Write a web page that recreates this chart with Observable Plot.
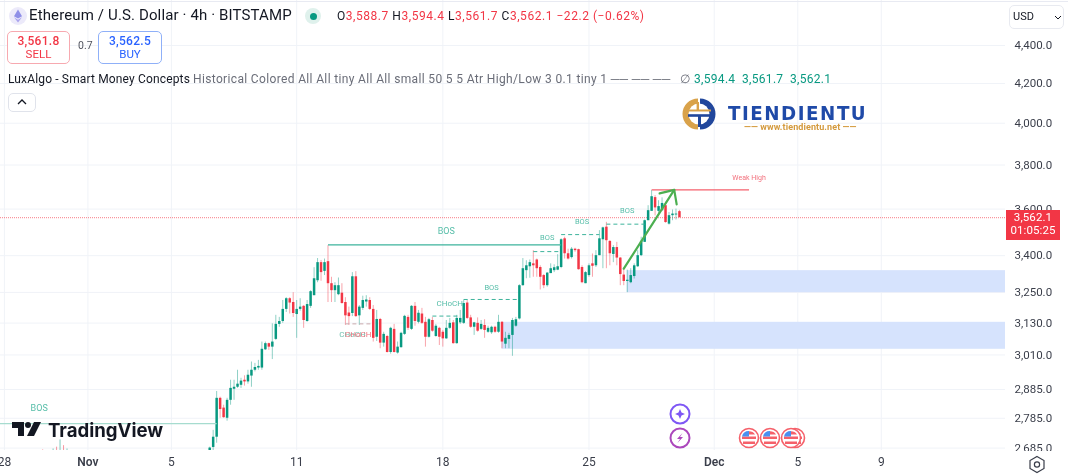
<!DOCTYPE html>
<html><head><meta charset="utf-8">
<script src="https://cdn.jsdelivr.net/npm/d3@7"></script>
<script src="https://cdn.jsdelivr.net/npm/@observablehq/plot@0.6"></script>
<style>
html,body{margin:0;padding:0;background:#fff;overflow:hidden}
#w{position:relative;width:1068px;height:474px;font-family:Roboto,sans-serif;color:#131722;filter:blur(.3px)}
#w svg{display:block}
.t{position:absolute;white-space:pre;line-height:1}
.box{position:absolute;box-sizing:border-box;border-radius:5px;background:#fff}
</style></head><body><div id="w"><div id="chart"></div>
<div class="t" style="left:0;top:1px;width:1068px;height:1px;background:#e8eaf2"></div>
<svg style="position:absolute;left:9px;top:7px" width="18" height="18" viewBox="0 0 18 18"><circle cx="9" cy="9" r="9" fill="#eceafa"/><path d="M9 2.5L5 9.3 9 11.6 13 9.3Z" fill="#8f8fe8"/><path d="M5 10.3L9 15.5 13 10.3 9 12.7Z" fill="#a9a3ee"/></svg>
<div class="t" style="left:29px;top:8px;font-size:15px;letter-spacing:.13px">Ethereum / U.S. Dollar · 4h · BITSTAMP</div>
<div class="t" style="left:305px;top:8px;width:16px;height:16px;border-radius:50%;background:#dff1ec"></div>
<div class="t" style="left:310px;top:13px;width:7px;height:7px;border-radius:50%;background:#089981"></div>
<div class="t" style="left:337px;top:10px;font-size:12px;color:#f23645;letter-spacing:.54px"><span style="color:#131722">O</span>3,588.7 <span style="color:#131722">H</span>3,594.4 <span style="color:#131722">L</span>3,561.7 <span style="color:#131722">C</span>3,562.1 −22.2 (−0.62%)</div>
<div class="box" style="left:7px;top:31px;width:63px;height:33px;border:1px solid #f7a9b0"></div>
<div class="t" style="left:7px;width:63px;text-align:center;top:35px;font-size:12px;color:#f23645;font-weight:500;letter-spacing:.3px">3,561.8</div>
<div class="t" style="left:7px;width:63px;text-align:center;top:49px;font-size:11.5px;color:#f23645">SELL</div>
<div class="t" style="left:78px;top:41px;font-size:10.5px;color:#50535e">0.7</div>
<div class="box" style="left:98px;top:31px;width:64px;height:33px;border:1px solid #8fb0f8"></div>
<div class="t" style="left:98px;width:64px;text-align:center;top:35px;font-size:12px;color:#2962ff;font-weight:500;letter-spacing:.3px">3,562.5</div>
<div class="t" style="left:98px;width:64px;text-align:center;top:49px;font-size:11.5px;color:#2962ff">BUY</div>
<div class="t" style="left:8px;top:73px;font-size:12px;letter-spacing:.15px">LuxAlgo - Smart Money Concepts</div>
<div class="t" style="left:193px;top:73px;font-size:12px;color:#6a6d78;letter-spacing:.35px">Historical Colored All All tiny All All small 50 5 5 Atr High/Low 3 0.1 tiny 1 ── ── ──</div>
<div class="t" style="left:680px;top:73px;font-size:12px;color:#6a6d78">∅</div>
<div class="t" style="left:694px;top:73px;font-size:12px;color:#089981;letter-spacing:.31px">3,594.4  3,561.7  3,562.1</div>
<div class="box" style="left:8px;top:93px;width:28px;height:19px;border:1px solid #e0e3eb"></div>
<svg style="position:absolute;left:16px;top:98px" width="12" height="8"><path d="M2 6L6 2 10 6" fill="none" stroke="#131722" stroke-width="1.3"/></svg>
<div class="box" style="left:1009px;top:5px;width:55px;height:24px;border:1px solid #e8eaf0"></div>
<div class="t" style="left:1013px;top:11px;font-size:11px">USD</div>
<svg style="position:absolute;left:1053px;top:14px" width="10" height="7"><path d="M2 2L5 5 8 2" fill="none" stroke="#131722" stroke-width="1"/></svg>
<div class="t" style="left:1006px;top:210px;width:54px;height:30px;background:#f23645"></div>
<div class="t" style="left:1006px;width:54px;text-align:center;top:212px;font-size:11.5px;color:#fff;letter-spacing:.1px">3,562.1</div>
<div class="t" style="left:1006px;width:54px;text-align:center;top:225px;font-size:11.5px;color:#fff;letter-spacing:.1px">01:05:25</div>
<div class="t" style="left:1006px;top:451px;width:60px;height:23px;background:#fff"></div>
<svg style="position:absolute;left:1028px;top:455px" width="18" height="20"><path d="M9 1.5L16 5.5V13.5L9 17.5 2 13.5V5.5Z" fill="none" stroke="#3a3e4a" stroke-width="1.2"/><circle cx="9" cy="9.5" r="2.6" fill="none" stroke="#3a3e4a" stroke-width="1.2"/></svg>
<svg style="position:absolute;left:682px;top:97px" width="34" height="34" viewBox="0 0 34 34">
<path d="M16 1.5A15.5 15.5 0 0 0 16 32.5Z" fill="#d9a24a"/><path d="M18 1.5A15.5 15.5 0 0 1 18 32.5Z" fill="#21479c"/>
<circle cx="17" cy="17" r="10.5" fill="#fff"/><path d="M5 13.5H29" stroke="#d9a24a" stroke-width="2"/><path d="M6 18.5H28" stroke="#21479c" stroke-width="2.6"/><path d="M15.8 5V13" stroke="#d9a24a" stroke-width="2.4"/><path d="M17.5 18V30" stroke="#21479c" stroke-width="3"/></svg>
<div class="t" style="left:728px;top:104px;font-size:19px;font-weight:800;color:#1f4aa8;letter-spacing:1.6px;font-family:'DejaVu Sans',sans-serif;transform-origin:left;transform:scaleX(.96)">TIENDIENTU</div>
<div class="t" style="left:744px;top:123px;font-size:9px;font-weight:700;color:#d49a3d;letter-spacing:.1px">—— www.tiendientu.net ——</div>
<svg style="position:absolute;left:12px;top:422px" width="30" height="16" viewBox="0 0 30 16"><path d="M0 0H12V14H6V6H0Z" fill="#131722"/><circle cx="16" cy="3" r="3" fill="#131722"/><path d="M22 0H29L22 14H15Z" fill="#131722"/></svg>
<div class="t" style="left:48px;top:421px;font-size:18.6px;font-weight:700;color:#131722;font-family:Inter,sans-serif">TradingView</div>
<svg style="position:absolute;left:665px;top:400px" width="145" height="52">
<g fill="#fff" stroke-width="2"><circle cx="15" cy="14" r="9.5" stroke="#7e57f5"/><circle cx="15" cy="38" r="9.5" stroke="#ab47bc"/></g>
<path d="M15 9L16.5 12.5 20 14 16.5 15.5 15 19 13.5 15.5 10 14 13.5 12.5Z" fill="#7e57f5"/><path d="M17.5 33L12 39H15L12.5 43 18 37H15Z" fill="#ab47bc"/>
<g id="flags"></g></svg>
</div>
<script>
const opens=[2675,2687,2721,2854,2820,2785,2847,2886,2893,2900,
2918,2912,2933,2954,2962,2962,3029,3052,3039,3068,
3125,3136,3183,3225,3210,3163,3183,3195,3136,3195,
3237,3297,3371,3335,3375,3285,3257,3241,3247,3210,
3169,3167,3313,3158,3187,3212,3218,3183,3076,3144,
3054,3079,3019,3106,3017,3037,3087,3152,3106,3195,
3133,3165,3133,3076,3140,3079,3110,3095,3070,3110,
3131,3052,3131,3129,3208,3150,3114,3129,3106,3121,
3095,3093,3114,3095,3133,3050,3068,3083,3118,3146,
3277,3338,3354,3366,3382,3351,3318,3277,3326,3338,
3340,3351,3471,3408,3392,3427,3425,3351,3285,3318,
3366,3358,3400,3467,3521,3460,3405,3434,3390,3320,
3294,3289,3314,3354,3400,3456,3549,3590,3651,3590,
3593,3615,3534,3571,3574,3588.7];
const highs=[2688,2744,2878,2858,2830,2854,2918,2918,2954,2925,
2934,2954,2984,2979,2990,3058,3058,3054,3127,3160,
3152,3218,3229,3229,3249,3218,3225,3198,3218,3257,
3350,3388,3380,3386,3442,3311,3289,3308,3285,3229,
3192,3330,3334,3198,3235,3237,3229,3198,3179,3148,
3095,3083,3114,3125,3058,3095,3160,3160,3198,3210,
3179,3187,3152,3148,3152,3125,3114,3102,3140,3148,
3140,3160,3179,3220,3218,3160,3133,3150,3140,3143,
3118,3118,3118,3160,3136,3095,3091,3148,3152,3281,
3388,3379,3382,3421,3386,3358,3322,3330,3366,3362,
3404,3471,3478,3427,3434,3431,3427,3358,3334,3366,
3407,3421,3506,3521,3542,3463,3442,3456,3392,3346,
3340,3346,3366,3421,3478,3552,3615,3683,3660,3637,
3650,3630,3585,3596,3600,3594.4];
const lows=[2672,2677,2701,2785,2785,2775,2830,2847,2889,2889,
2897,2904,2893,2948,2954,2954,3027,3027,2993,3064,
3114,3129,3171,3165,3152,3072,3176,3110,3133,3187,
3237,3289,3295,3318,3210,3210,3210,3237,3204,3121,
3121,3155,3152,3121,3179,3192,3179,3058,3060,3033,
3039,3017,3013,3017,3013,3035,3083,3102,3102,3118,
3127,3125,3039,3073,3095,3076,3045,3039,3068,3106,
3050,3050,3125,3125,3144,3110,3083,3095,3102,3072,
3091,3087,3091,3091,3033,3033,3033,3005,3114,3142,
3275,3305,3307,3311,3311,3260,3265,3271,3326,3330,
3338,3346,3386,3382,3386,3414,3340,3285,3285,3311,
3311,3351,3400,3346,3346,3358,3371,3358,3277,3277,
3249,3285,3304,3351,3396,3456,3549,3590,3570,3580,
3590,3538,3530,3549,3552,3561.7];
const closes=[2685,2721,2854,2815,2787,2847,2889,2893,2904,2915,
2912,2936,2954,2964,2968,3031,3052,3039,3058,3125,
3136,3183,3225,3208,3167,3183,3192,3140,3202,3253,
3305,3371,3330,3371,3285,3257,3277,3277,3206,3158,
3155,3313,3155,3192,3218,3220,3183,3072,3144,3054,
3087,3019,3110,3019,3039,3091,3156,3110,3195,3136,
3168,3129,3076,3143,3099,3118,3076,3070,3110,3129,
3052,3148,3148,3206,3148,3114,3131,3099,3125,3102,
3110,3114,3095,3133,3058,3072,3083,3140,3143,3277,
3346,3358,3371,3358,3346,3311,3277,3328,3346,3350,
3354,3467,3408,3386,3427,3421,3342,3289,3330,3358,
3356,3400,3471,3518,3463,3408,3434,3390,3322,3294,
3299,3318,3358,3400,3460,3549,3593,3655,3605,3611,
3625,3541,3571,3578,3578,3562.1];
// candles before the main run, only their upper wicks rise into the frame
const earlyBars=[-48,-45,-44,-43,-42,-41];
const earlyHighs=[2679,2682,2688,2712,2693,2682];
const earlyUp=[false,true,false,true,false,true];

const yTicks=[4400,4200,4000,3800,3600,3400,3250,3130,3010,2885,2785,2685];
const dayTicks=[[2024,9,28],[2024,10,5],[2024,10,11],[2024,10,18],[2024,10,25],[2024,11,5],[2024,11,9]];
const monthTicks=[[2024,10,1],[2024,11,1]];

const solidLines=[
 {from:-62,to:2,level:2767,color:"#a6dccf"},
 {from:34,to:101,level:3445,color:"#3db39c"},
 {from:127,to:155,level:3686,color:"#f5606c"}];
const dashedLines=[
 {from:64,to:71.5,level:3157,color:"#3db39c"},
 {from:73,to:89,level:3222,color:"#3db39c"},
 {from:93,to:101,level:3417,color:"#3db39c"},
 {from:101,to:112,level:3489,color:"#3db39c"},
 {from:114,to:125,level:3534,color:"#3db39c"},
 {from:39,to:47,level:3127,color:"#c9a9ac"}];
const labels=[
 {bar:-49,level:2819,text:"BOS",size:9,color:"#55bda8"},
 {bar:68,level:3505,text:"BOS",size:9,color:"#55bda8"},
 {bar:81,level:3270,text:"BOS",size:7.5,color:"#55bda8"},
 {bar:69,level:3206,text:"CHoCH",size:8,color:"#55bda8"},
 {bar:97,level:3477,text:"BOS",size:7.5,color:"#55bda8"},
 {bar:107,level:3546,text:"BOS",size:7.5,color:"#55bda8"},
 {bar:120,level:3593,text:"BOS",size:7.5,color:"#55bda8"},
 {bar:41,level:3085,text:"CHoCH",size:8,color:"#6fbfae"},
 {bar:42.7,level:3085,text:"CHoCH",size:8,color:"#f2727e"},
 {bar:155,level:3742,text:"Weak High",size:7,color:"#f2727e"}];
const zones=[
 {from:84,to:230,top:3133,bottom:3031},
 {from:120,to:230,top:3338,bottom:3249}];
const arrowShaft=[[119,3346],[133.5,3686]];
const arrowHead=[[129.3,3670],[133.5,3686],[134.2,3621]];
const lastPrice=3562.1;

const T0=Date.UTC(2024,10,6,20);
const barTime=i=>new Date(T0+i*4*3600e3);
const D=a=>new Date(Date.UTC(...a));
const bars=opens.map((o,i)=>({t:barTime(i),o,h:highs[i],l:lows[i],c:closes[i]}));
const GREEN="#089981",RED="#f23645";
const col=d=>d.c>=d.o?GREEN:RED;
const early=earlyBars.map((b,i)=>({t:barTime(b),h:earlyHighs[i],up:earlyUp[i]}));
const days=new Map([...dayTicks,...monthTicks].map(a=>[+D(a),a]));
const fmtX=d=>{const a=days.get(+d);return a[2]===1?(a[1]===10?"Nov":"Dec"):String(a[2]);};
const xAll=[...dayTicks,...monthTicks].map(D);
const sty={clip:"frame"};

const plot=Plot.plot({
 width:1068,height:474,marginLeft:0,marginRight:63,marginTop:0,marginBottom:24,
 style:{background:"transparent",fontFamily:"Roboto,sans-serif"},
 x:{type:"utc",domain:[new Date(Date.UTC(2024,9,27,19,32)),new Date(Date.UTC(2024,11,14,22,48))],label:null},
 y:{type:"log",domain:[2677,4650],label:null},
 marks:[
  Plot.ruleX(xAll,{stroke:"#f0f3f8",strokeWidth:1}),
  Plot.ruleY(yTicks,{stroke:"#f0f3f8",strokeWidth:1}),
  Plot.axisY({anchor:"right",ticks:yTicks,tickFormat:d3.format(",.1f"),tickSize:0,tickPadding:9,fontSize:11.5,textAnchor:"start",color:"#3a3e4a",label:null}),
  Plot.axisX({ticks:dayTicks.map(D),tickFormat:fmtX,tickSize:0,tickPadding:7,fontSize:12,color:"#3a3e4a",label:null}),
  Plot.axisX({ticks:monthTicks.map(D),tickFormat:fmtX,tickSize:0,tickPadding:7,fontSize:12,fontWeight:600,color:"#3a3e4a",label:null}),
  Plot.rect(zones,{x1:d=>barTime(d.from),x2:d=>barTime(d.to),y1:"bottom",y2:"top",fill:"#d6e3fd",...sty}),
  Plot.ruleY([lastPrice],{stroke:RED,strokeOpacity:.65,strokeDasharray:"1,1",strokeWidth:1}),
  Plot.ruleX(early,{x:"t",y1:2640,y2:"h",stroke:d=>d.up?GREEN:RED,strokeOpacity:.5,strokeWidth:1,...sty}),
  Plot.ruleX(bars,{x:"t",y1:"l",y2:"h",stroke:col,strokeOpacity:.45,strokeWidth:1,...sty}),
  Plot.ruleX(bars,{x:"t",y1:"o",y2:"c",stroke:col,strokeWidth:2.5,...sty}),
  Plot.link(solidLines,{x1:d=>barTime(d.from),x2:d=>barTime(d.to),y1:"level",y2:"level",stroke:d=>d.color,strokeWidth:1.3,...sty}),
  Plot.link(dashedLines,{x1:d=>barTime(d.from),x2:d=>barTime(d.to),y1:"level",y2:"level",stroke:d=>d.color,strokeDasharray:"4,3",strokeWidth:1,...sty}),
  Plot.text(labels,{x:d=>barTime(d.bar),y:"level",text:"text",fontSize:d=>d.size,fill:d=>d.color}),
  Plot.line(arrowShaft,{x:d=>barTime(d[0]),y:d=>d[1],stroke:"#4caf50",strokeWidth:2.2,curve:"linear"}),
  Plot.line(arrowHead,{x:d=>barTime(d[0]),y:d=>d[1],stroke:"#4caf50",strokeWidth:2.2,curve:"linear"})
 ]
});
document.getElementById("chart").appendChild(plot);
// economic-event flags
const flagsG=document.getElementById("flags");
const ns="http://www.w3.org/2000/svg";
[795,749,770,791].forEach(x=>{
 const g=document.createElementNS(ns,"g");
 g.setAttribute("transform",`translate(${x-665},38)`);
 g.innerHTML=`<circle r="9.5" fill="#fff" stroke="#f5606a" stroke-width="1.6"/><path d="M-7 -1.5H7V1H-7ZM-6 3.5H6V6H-6Z" fill="#f5606a"/><path d="M-7 -1.5A7 7 0 0 1 0 -7V-1.5Z" fill="#4a90f0"/><path d="M0 -6.8A7 7 0 0 1 6 -3.5H0Z" fill="#f5606a"/>`;
 flagsG.appendChild(g);
});
</script></body></html>
